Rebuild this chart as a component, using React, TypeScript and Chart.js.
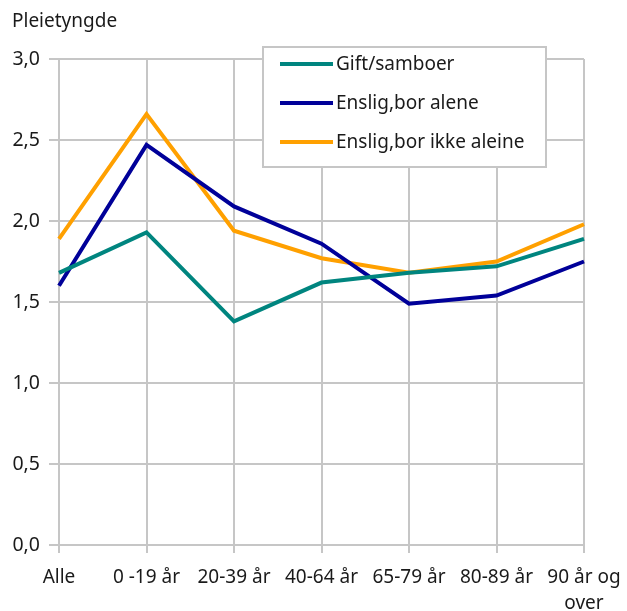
import React, { useEffect, useRef } from "react";
import { Chart, registerables } from "chart.js";

Chart.register(...registerables);

const categories: (string | string[])[] = [
  "Alle",
  "0 -19 år",
  "20-39 år",
  "40-64 år",
  "65-79 år",
  "80-89 år",
  ["90 år og", "over"],
];
const giftSamboer = [1.68, 1.93, 1.38, 1.62, 1.68, 1.72, 1.89];
const ensligBorAlene = [1.6, 2.47, 2.09, 1.86, 1.49, 1.54, 1.75];
const ensligBorIkkeAleine = [1.89, 2.66, 1.94, 1.77, 1.68, 1.75, 1.98];
const seriesNames = ["Gift/samboer", "Enslig,bor alene", "Enslig,bor ikke aleine"];
const colors = ["#00857F", "#000099", "#FFA000"];
const yTitle = "Pleietyngde";

const FONT = "'Noto Sans', sans-serif";
const GRID = "#c6c6c6";
const TEXT = "#1a1a1a";

const overlayPlugin = {
  id: "overlay",
  afterDraw(chart: any) {
    const ctx = chart.ctx;
    ctx.save();
    // y title
    ctx.fillStyle = TEXT;
    ctx.font = `19px ${FONT}`;
    ctx.textAlign = "left";
    ctx.textBaseline = "middle";
    ctx.fillText(yTitle, 12, 22);
    // legend box
    const bx = 263, by = 47, bw = 283, bh = 120;
    ctx.fillStyle = "#ffffff";
    ctx.fillRect(bx, by, bw, bh);
    ctx.strokeStyle = GRID;
    ctx.lineWidth = 2;
    ctx.strokeRect(bx, by, bw, bh);
    chart.data.datasets.forEach((ds: any, i: number) => {
      const y = 64 + i * 39;
      ctx.strokeStyle = ds.borderColor;
      ctx.lineWidth = 4;
      ctx.beginPath();
      ctx.moveTo(280, y);
      ctx.lineTo(333, y);
      ctx.stroke();
      ctx.fillStyle = TEXT;
      ctx.font = `19px ${FONT}`;
      ctx.textBaseline = "middle";
      ctx.fillText(ds.label, 336, y + 1);
    });
    ctx.restore();
  },
};

export default function App() {
  const ref = useRef<HTMLCanvasElement>(null);
  useEffect(() => {
    document.body.style.margin = "0";
    const seriesData = [giftSamboer, ensligBorAlene, ensligBorIkkeAleine];
    const chart = new Chart(ref.current!, {
      type: "line",
      data: {
        labels: categories,
        datasets: seriesData.map((d, i) => ({
          label: seriesNames[i],
          data: d,
          borderColor: colors[i],
          backgroundColor: colors[i],
          borderWidth: 4,
          pointRadius: 0,
          tension: 0,
          fill: false,
        })),
      },
      options: {
        animation: false,
        responsive: false,
        maintainAspectRatio: false,
        layout: { padding: { left: 12, right: 0, top: 59, bottom: 0 } },
        plugins: {
          legend: { display: false },
          title: { display: false },
          tooltip: { enabled: false },
        },
        scales: {
          x: {
            offset: false,
            grid: { color: GRID, lineWidth: 2, tickLength: 8, drawTicks: true },
            border: { color: GRID, width: 2 },
            ticks: {
              color: TEXT,
              font: { family: FONT, size: 19, lineHeight: 1.37 },
              padding: 12,
              maxRotation: 0,
              autoSkip: false,
            },
            afterFit(scale: any) {
              scale.height = 66;
              scale.paddingRight = 43;
              scale.paddingLeft = 0;
            },
          },
          y: {
            min: 0,
            max: 3,
            grid: { color: GRID, lineWidth: 2, tickLength: 10 },
            border: { color: GRID, width: 2 },
            ticks: {
              stepSize: 0.5,
              color: TEXT,
              font: { family: FONT, size: 19.5 },
              padding: 9,
              callback: (v: any) => Number(v).toFixed(1).replace(".", ","),
            },
            afterFit(scale: any) {
              scale.width = 47;
            },
          },
        },
      },
      plugins: [overlayPlugin],
    });
    return () => chart.destroy();
  }, []);
  return <canvas ref={ref} width={627} height={611} style={{ display: "block" }} />;
}
